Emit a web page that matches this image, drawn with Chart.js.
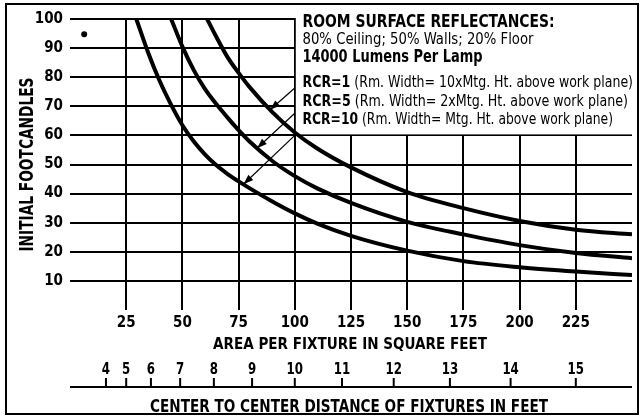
<!DOCTYPE html>
<html>
<head>
<meta charset="utf-8">
<script src="https://cdn.jsdelivr.net/npm/chart.js@4"></script>
<style>
  html, body { margin: 0; padding: 0; background: #fff; }
  #wrap { width: 641px; height: 417px; position: relative; }
</style>
</head>
<body>
<div id="wrap"><canvas id="chart"></canvas></div>
<script>
// ── DATA ───────────────────────────────────
// area per fixture (sq ft) -> initial footcandles, one curve per RCR
const rcr1X  = [61, 65, 70, 75, 80, 90, 100, 110, 125, 150, 175, 200, 225, 250];
const rcr1Y  = [100, 94, 87, 81.5, 76.5, 68, 61, 55.5, 49, 40.5, 35, 30.6, 27.6, 26];
const rcr5X  = [45, 50, 55, 60, 70, 75, 80, 90, 100, 110, 125, 150, 175, 200, 225, 250];
const rcr5Y  = [100, 90.5, 82.5, 76, 66.2, 61.8, 57.8, 51.2, 46, 41.8, 36.8, 30.3, 26, 22.3, 19.6, 17.8];
const rcr10X = [29.5, 35, 40, 45, 50, 55, 60, 65, 70, 75, 80, 90, 100, 110, 125, 150, 175, 200, 225, 250];
const rcr10Y = [100, 88, 78.5, 70.5, 63.5, 58, 53.5, 49.8, 46.8, 44.2, 41.8, 37.3, 33.2, 29.7, 25.5, 20.4, 16.8, 14.7, 13.2, 12];

// stray dot near the top-left of the grid
const dotX = [6.3];
const dotY = [94.8];

const areaTicks = [25, 50, 75, 100, 125, 150, 175, 200, 225];
const fcTicks   = [10, 20, 30, 40, 50, 60, 70, 80, 90, 100];
const distTicks = [4, 5, 6, 7, 8, 9, 10, 11, 12, 13, 14, 15];   // feet, area = d*d

const notesBold = ['RCR=1', 'RCR=5', 'RCR=10'];
const notesText = [' (Rm. Width= 10xMtg. Ht. above work plane)',
                   ' (Rm. Width= 2xMtg. Ht. above work plane)',
                   ' (Rm. Width= Mtg. Ht. above work plane)'];

// arrows from the note box to each curve (data units)
const arrowFromY = [76.3, 67.6, 60];
const arrowTipX  = [89, 83.2, 77.2];
const arrowTipY  = [68.8, 55.6, 43.2];

// the original uses a condensed face; DejaVu Condensed is squeezed a bit more
const FONT = "'Liberation Sans Narrow', 'DejaVu Sans Condensed', 'Liberation Sans', sans-serif";

function pts(xs, ys) { return xs.map((x, i) => ({ x: x, y: ys[i] })); }

function curve(label, xs, ys) {
  return {
    label: label,
    data: pts(xs, ys),
    borderColor: '#000',
    borderWidth: 4,
    pointRadius: 0,
    fill: false,
    cubicInterpolationMode: 'monotone'
  };
}

// draw text squeezed horizontally to a given width
function fitText(c, text, x, y, width, align) {
  const w = c.measureText(text).width;
  const k = Math.min(1, width / w);
  c.save();
  c.translate(x, y);
  c.scale(k, 1);
  c.textAlign = align || 'left';
  c.fillText(text, 0, 0);
  c.restore();
}

// ── PLUGINS ────────────────────────────────
const whiteBg = {
  id: 'whiteBg',
  beforeDraw(chart) {
    const c = chart.ctx;
    c.save();
    c.fillStyle = '#fff';
    c.fillRect(0, 0, chart.width, chart.height);
    c.restore();
  }
};

// white note box over the upper-right grid, text and arrows
const notes = {
  id: 'notes',
  beforeDatasetsDraw(chart) {
    const c = chart.ctx;
    const xs = chart.scales.x, ys = chart.scales.y;
    const left = xs.getPixelForValue(100) + 1;
    const bottom = ys.getPixelForValue(60) - 1;
    c.save();
    c.fillStyle = '#fff';
    c.fillRect(left, 0, chart.width - left, bottom);

    c.fillStyle = '#000';
    c.textBaseline = 'alphabetic';
    const tx = 302.5;
    c.font = 'bold 17px ' + FONT;
    fitText(c, 'ROOM SURFACE REFLECTANCES:', tx, 27, 252);
    c.font = '16.5px ' + FONT;
    fitText(c, '80% Ceiling; 50% Walls; 20% Floor', tx, 43.5, 231);
    c.font = 'bold 17px ' + FONT;
    fitText(c, '14000 Lumens Per Lamp', tx, 61.5, 180);

    const base = [87.3, 106, 124.3];
    const ends = [633, 628, 613];
    notesBold.forEach((b, i) => {
      c.font = 'bold 16.5px ' + FONT;
      const wb = c.measureText(b).width;
      c.font = '16.5px ' + FONT;
      const wt = c.measureText(notesText[i]).width;
      const k = (ends[i] - tx) / (wb + wt);
      c.save();
      c.translate(tx, base[i]);
      c.scale(k, 1);
      c.font = 'bold 16.5px ' + FONT;
      c.fillText(b, 0, 0);
      c.font = '16.5px ' + FONT;
      c.fillText(notesText[i], wb, 0);
      c.restore();
    });

    // arrows
    c.strokeStyle = '#000';
    c.lineWidth = 1.2;
    arrowFromY.forEach((fy, i) => {
      const x0 = xs.getPixelForValue(100), y0 = ys.getPixelForValue(fy);
      const x1 = xs.getPixelForValue(arrowTipX[i]), y1 = ys.getPixelForValue(arrowTipY[i]);
      c.beginPath();
      c.moveTo(x0, y0);
      c.lineTo(x1, y1);
      c.stroke();
      const a = Math.atan2(y1 - y0, x1 - x0);
      c.beginPath();
      c.moveTo(x1, y1);
      c.lineTo(x1 - 10 * Math.cos(a) + 3.5 * Math.sin(a), y1 - 10 * Math.sin(a) - 3.5 * Math.cos(a));
      c.lineTo(x1 - 10 * Math.cos(a) - 3.5 * Math.sin(a), y1 - 10 * Math.sin(a) + 3.5 * Math.cos(a));
      c.closePath();
      c.fill();
    });
    c.restore();
  }
};

// axis titles, second distance scale and outer frame
const extras = {
  id: 'extras',
  afterDraw(chart) {
    const c = chart.ctx;
    const xs = chart.scales.x;
    const area = chart.chartArea;
    const midX = (area.left + area.right) / 2;
    c.save();
    c.strokeStyle = '#000';
    c.fillStyle = '#000';
    c.textBaseline = 'alphabetic';

    // y title, rotated
    c.save();
    c.translate(33, (area.top + area.bottom) / 2);
    c.rotate(-Math.PI / 2);
    c.font = 'bold 20px ' + FONT;
    fitText(c, 'INITIAL FOOTCANDLES', 0, 0, 174, 'center');
    c.restore();

    // x title
    c.font = 'bold 16px ' + FONT;
    fitText(c, 'AREA PER FIXTURE IN SQUARE FEET', midX - 1, 348.5, 274, 'center');

    // center to center distance scale
    const lineY = 387;
    c.lineWidth = 2;
    c.beginPath();
    c.moveTo(area.left, lineY);
    c.lineTo(area.right, lineY);
    c.stroke();
    c.font = 'bold 16px ' + FONT;
    distTicks.forEach(d => {
      const px = xs.getPixelForValue(d * d);
      c.beginPath();
      c.moveTo(px, lineY - 9);
      c.lineTo(px, lineY);
      c.stroke();
      const s = String(d);
      fitText(c, s, px, 373.5, c.measureText(s).width * 0.82, 'center');
    });
    c.font = 'bold 18px ' + FONT;
    fitText(c, 'CENTER TO CENTER DISTANCE OF FIXTURES IN FEET', midX - 2, 411.5, 398, 'center');

    // outer frame
    c.lineWidth = 2;
    c.strokeRect(6, 4, 632, 410);
    c.restore();
  }
};

// ── CHART ──────────────────────────────────
new Chart(document.getElementById('chart'), {
  type: 'line',
  data: {
    datasets: [
      curve('RCR=1', rcr1X, rcr1Y),
      curve('RCR=5', rcr5X, rcr5Y),
      curve('RCR=10', rcr10X, rcr10Y),
      {
        label: 'dot',
        type: 'scatter',
        data: pts(dotX, dotY),
        pointRadius: 3,
        pointBackgroundColor: '#000',
        pointBorderColor: '#000',
        borderWidth: 0,
        showLine: false
      }
    ]
  },
  options: {
    responsive: true,
    maintainAspectRatio: false,
    animation: false,
    events: [],
    layout: { padding: { top: 19, right: 9, bottom: 60, left: 0 } },
    plugins: { legend: { display: false }, tooltip: { enabled: false } },
    scales: {
      x: {
        type: 'linear',
        min: 0,
        max: 250,
        afterBuildTicks: s => { s.ticks = areaTicks.map(v => ({ value: v })); },
        afterFit: s => { s.height = 47; },
        grid: { color: '#000', lineWidth: 2, drawTicks: false },
        border: { display: false },
        ticks: { color: '#000', padding: 4, maxRotation: 0, font: { family: FONT, size: 15, weight: 'bold' } }
      },
      y: {
        min: 0,
        max: 100,
        afterBuildTicks: s => { s.ticks = fcTicks.map(v => ({ value: v })); },
        afterFit: s => { s.width = 70; },
        grid: { color: '#000', lineWidth: 2, drawTicks: false },
        border: { display: false },
        ticks: { color: '#000', padding: 7, font: { family: FONT, size: 15, weight: 'bold' } }
      }
    }
  },
  plugins: [whiteBg, notes, extras]
});
</script>
</body>
</html>
